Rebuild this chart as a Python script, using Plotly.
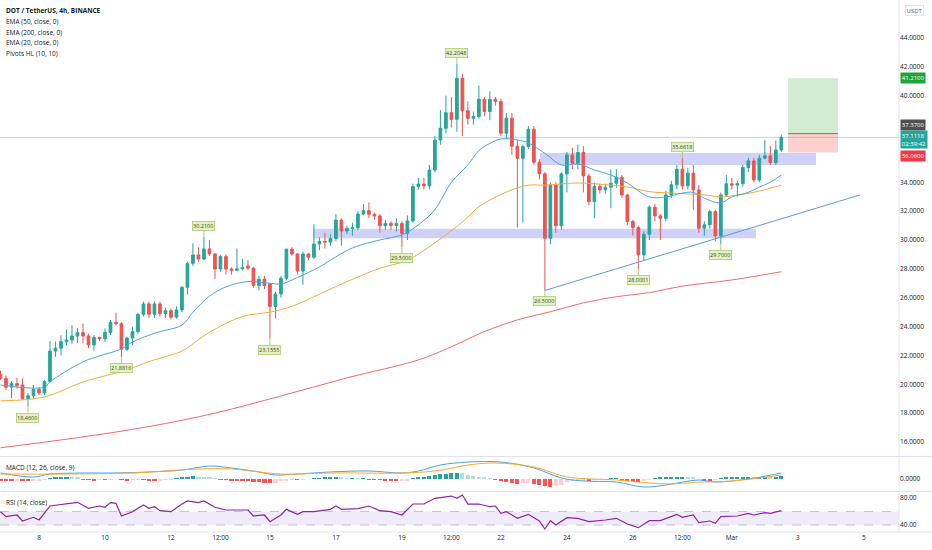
import plotly.graph_objects as go
from plotly.subplots import make_subplots

# ---------------- data ----------------
opens = [20.70, 20.40, 19.80, 20.05, 19.95, 19.00, 19.20, 19.65, 19.40, 20.20,
         22.30, 22.50, 22.96, 23.07, 23.35, 23.58, 23.35, 22.73, 23.25, 23.15,
         23.60, 24.30, 24.20, 22.43, 23.20, 23.65, 24.85, 25.57, 24.85, 25.57,
         24.90, 25.10, 24.65, 25.15, 26.72, 28.38, 28.96, 28.68, 29.38, 29.03,
         27.99, 28.85, 27.99, 27.90, 28.00, 28.20, 28.05, 26.84, 27.28, 26.95,
         25.40, 26.26, 27.35, 29.36, 29.03, 27.85, 29.03, 28.80, 29.72, 29.90,
         29.85, 30.10, 31.38, 30.62, 30.80, 30.85, 31.80, 32.03, 31.78, 31.66,
         30.99, 31.15, 31.00, 31.15, 30.46, 31.32, 33.70, 33.88, 33.75, 34.85,
         36.93, 37.74, 38.82, 38.36, 41.20, 38.96, 38.43, 38.55, 39.75, 38.90,
         39.75, 39.60, 37.40, 38.44, 36.50, 35.66, 36.47, 37.67, 35.39, 34.58,
         30.12, 33.82, 30.98, 34.58, 35.90, 35.32, 36.06, 34.44, 32.66, 33.70,
         33.47, 33.66, 33.93, 34.35, 33.12, 31.28, 30.86, 28.97, 30.40, 32.27,
         31.67, 31.50, 33.12, 33.82, 34.90, 33.75, 34.63, 33.47, 30.81, 31.05,
         31.97, 30.28, 33.12, 33.89, 33.80, 33.90, 35.02, 35.48, 34.16, 35.67,
         35.83, 35.37, 36.24]
highs = [20.95, 20.60, 20.20, 20.45, 20.40, 19.40, 19.95, 19.80, 20.30, 23.00,
         22.96, 23.40, 23.80, 24.10, 23.90, 24.20, 23.50, 23.40, 23.30, 23.88,
         24.46, 24.97, 24.30, 23.30, 24.00, 24.92, 25.73, 25.73, 25.73, 25.73,
         25.30, 25.25, 25.40, 26.80, 28.50, 29.77, 29.50, 30.21, 30.00, 29.10,
         29.00, 29.00, 28.10, 29.40, 28.70, 28.60, 28.10, 27.50, 27.50, 27.00,
         26.40, 27.50, 29.40, 29.50, 29.10, 29.20, 29.10, 31.10, 30.20, 30.50,
         30.40, 31.80, 31.50, 31.00, 31.20, 32.00, 32.49, 32.60, 31.90, 31.80,
         31.40, 31.30, 31.50, 31.30, 31.70, 33.90, 34.30, 34.30, 35.20, 37.20,
         39.00, 40.00, 39.90, 42.2048, 41.50, 39.60, 38.90, 40.70, 39.90, 40.30,
         39.90, 39.80, 38.80, 38.80, 36.90, 36.60, 37.90, 37.90, 35.60, 34.70,
         34.00, 34.00, 34.70, 36.10, 36.40, 36.60, 36.50, 34.60, 34.00, 33.90,
         33.90, 34.90, 34.90, 34.50, 33.20, 31.40, 31.00, 30.60, 32.40, 32.50,
         31.80, 33.40, 34.10, 35.20, 35.6618, 35.00, 35.20, 33.80, 31.30, 32.10,
         32.10, 33.30, 34.50, 34.30, 34.10, 35.20, 35.70, 35.70, 35.90, 36.94,
         36.50, 36.90, 37.30]
lows = [20.30, 19.60, 19.05, 19.70, 18.90, 18.46, 19.05, 19.25, 19.25, 20.10,
        21.90, 22.00, 22.70, 22.80, 22.85, 22.85, 22.50, 22.33, 23.00, 22.95,
        23.40, 24.10, 21.8816, 22.30, 22.70, 23.50, 24.70, 24.60, 24.60, 24.70,
        24.60, 24.50, 24.55, 25.00, 26.20, 28.20, 28.50, 28.60, 28.90, 27.30,
        27.80, 27.60, 27.60, 27.85, 27.90, 27.90, 26.70, 26.50, 26.60, 23.1555,
        24.57, 26.00, 27.20, 28.90, 27.60, 26.90, 28.60, 28.70, 29.30, 29.40,
        29.60, 29.90, 29.60, 30.40, 30.30, 30.70, 31.70, 31.50, 31.40, 30.50,
        30.70, 30.70, 30.60, 29.50, 30.00, 31.20, 33.50, 33.50, 33.50, 34.70,
        36.60, 37.40, 37.80, 37.50, 37.20, 38.00, 38.00, 38.40, 38.60, 38.30,
        39.30, 37.20, 37.00, 35.90, 30.86, 31.20, 36.30, 35.20, 34.20, 26.50,
        29.70, 30.50, 30.70, 33.30, 34.90, 34.90, 33.30, 32.40, 31.50, 33.20,
        33.20, 32.20, 33.60, 32.90, 31.00, 30.30, 28.0001, 28.60, 30.00, 31.30,
        30.00, 31.30, 32.90, 33.50, 33.50, 33.50, 32.10, 30.50, 30.30, 30.80,
        29.90, 29.70, 33.00, 33.50, 33.00, 33.70, 34.70, 34.00, 34.00, 35.60,
        35.20, 35.20, 36.10]
closes = [20.40, 19.80, 20.05, 19.90, 19.00, 19.20, 19.65, 19.40, 20.20, 22.30,
          22.50, 22.96, 23.07, 23.35, 23.58, 23.35, 22.73, 23.25, 23.15, 23.60,
          24.30, 24.20, 22.43, 23.20, 23.65, 24.85, 25.57, 24.85, 25.57, 24.90,
          25.10, 24.65, 25.15, 26.72, 28.38, 28.96, 28.68, 29.38, 29.03, 27.99,
          28.85, 27.99, 27.90, 28.00, 28.10, 28.05, 26.84, 27.28, 26.84, 25.40,
          26.26, 27.35, 29.36, 29.03, 27.85, 29.03, 28.80, 29.72, 29.90, 29.85,
          30.10, 31.38, 30.62, 30.80, 30.85, 31.80, 32.03, 31.78, 31.66, 30.99,
          31.15, 31.00, 31.15, 30.46, 31.32, 33.70, 33.88, 33.75, 34.85, 36.93,
          37.74, 38.82, 38.36, 41.20, 38.96, 38.43, 38.55, 39.75, 38.90, 39.75,
          39.60, 37.40, 38.44, 36.50, 35.66, 36.47, 37.67, 35.39, 34.58, 30.12,
          33.82, 30.98, 34.58, 35.90, 35.32, 36.06, 34.44, 32.66, 33.70, 33.47,
          33.66, 33.93, 34.35, 33.12, 31.28, 30.86, 28.97, 30.40, 32.27, 31.67,
          31.50, 33.12, 33.82, 34.90, 33.75, 34.63, 33.47, 30.81, 31.05, 31.97,
          30.28, 33.12, 33.89, 33.80, 33.90, 35.02, 35.48, 34.16, 35.67, 35.83,
          35.37, 36.24, 37.11]
bar_idx = list(range(len(closes)))

# EMA lines read at sample bars
ema20_x = [0, 8, 9, 15, 18, 22, 24, 27, 29, 33, 35, 38, 41, 45, 49, 51, 54, 58, 60,
           64, 69, 73, 76, 79, 82, 85, 87, 89, 91, 94, 96, 99, 102, 105, 108, 111,
           114, 116, 118, 121, 124, 126, 128, 131, 133, 136, 138, 140, 142]
ema20_y = [19.95, 19.80, 20.17, 21.55, 21.96, 22.45, 22.93, 23.40, 23.65, 24.10,
           25.00, 26.10, 26.75, 27.12, 27.00, 26.95, 27.40, 28.13, 28.60,
           29.45, 30.00, 30.35, 31.05, 32.10, 34.00, 35.20, 36.20, 36.70, 37.00,
           36.93, 36.72, 36.00, 35.20, 35.27, 34.85, 34.50, 33.95, 33.40, 32.98,
           32.98, 33.25, 33.30, 32.90, 32.57, 32.98, 33.30, 33.67, 34.00, 34.50]
ema50_x = [0, 8, 15, 23, 27, 31, 33, 38, 44, 49, 53, 57, 63, 69, 74, 79, 84, 87,
           89, 93, 96, 99, 105, 111, 114, 118, 122, 128, 131, 134, 137, 142]
ema50_y = [18.85, 19.12, 20.16, 21.00, 21.57, 22.03, 22.30, 23.60, 24.70, 25.00,
           25.40, 26.07, 27.11, 28.04, 28.60, 29.80, 31.25, 32.30, 32.77, 33.47,
           33.80, 33.80, 33.95, 33.80, 33.67, 33.35, 33.25, 33.12, 32.98, 33.12,
           33.30, 33.80]
ema200_x = [0, 14, 27, 39, 51, 63, 76, 82, 88, 94, 100, 106, 112, 118, 124, 133, 142]
ema200_y = [15.60, 16.30, 17.07, 18.00, 19.19, 20.44, 21.69, 22.60, 23.65, 24.46,
            25.03, 25.64, 26.07, 26.35, 26.80, 27.23, 27.80]

# MACD pane
macd_x = [0, 6, 9, 15, 21, 27, 33, 38, 42, 47, 50, 54, 60, 67, 73, 76, 80, 85, 91,
          97, 102, 106, 112, 117, 121, 127, 130, 136, 142]
macd_y = [0.75, 0.25, 0.62, 0.75, 0.75, 0.88, 1.12, 1.62, 1.38, 0.88, 0.50, 0.62,
          0.88, 1.00, 0.75, 1.00, 1.75, 2.12, 2.12, 1.38, 0.12, -0.25, -0.38, -1.00,
          -0.75, -0.12, -0.38, 0.00, 0.75]
signal_x = [0, 12, 24, 36, 42, 51, 60, 73, 79, 85, 90, 97, 103, 112, 121, 127, 133, 142]
signal_y = [0.62, 0.62, 0.75, 1.25, 1.25, 0.62, 0.75, 0.75, 1.00, 1.75, 2.00, 1.50,
            0.25, -0.12, -0.62, -0.38, -0.25, 0.50]
hist = [-0.20, -0.25, -0.25, -0.20, -0.30, -0.30, -0.25, -0.20,
        -0.10, 0.10, 0.20, 0.30, 0.30, 0.25, 0.15,
        -0.05, -0.10, -0.15, -0.10, -0.10, -0.05, 0.00, -0.10, -0.15, -0.10, -0.05,
        -0.10, -0.15, -0.20, -0.15, -0.10, -0.05, 0.05,
        0.20, 0.30, 0.35, 0.30, 0.25, 0.20,
        0.10, -0.05, -0.10, -0.15, -0.15, -0.20, -0.25,
        -0.35, -0.40, -0.45, -0.50, -0.45,
        -0.30, -0.20, -0.10,
        -0.10, -0.05, 0.00, 0.05,
        0.10, 0.15, 0.20, 0.20, 0.15, 0.10, 0.10, 0.05, 0.05,
        -0.05, -0.10, -0.10,
        -0.20, -0.25, -0.25, -0.20, -0.15,
        0.05, 0.20, 0.30, 0.40, 0.50, 0.60, 0.65, 0.70, 0.75, 0.70,
        0.50, 0.40, 0.25, 0.15,
        0.05, -0.10,
        -0.30, -0.35, -0.50, -0.60, -0.55, -0.45, -0.60, -0.70, -0.90, -1.00, -0.85, -0.75,
        -0.40, -0.30, -0.20, -0.15,
        -0.25,
        -0.10, -0.05, 0.00, 0.05, 0.05,
        -0.15, -0.25, -0.30, -0.35, -0.30,
        -0.10, 0.05, 0.15,
        0.20, 0.30, 0.30, 0.30, 0.25, 0.15, 0.00,
        -0.15, -0.20, -0.10,
        0.05, 0.15, 0.20, 0.25, 0.25, 0.30, 0.25, 0.30, 0.30, 0.25, 0.30, 0.35]

# RSI pane
rsi_x = [0, 1, 3, 4, 6, 7, 9, 12, 14, 16, 18, 19, 20, 21, 22, 24, 26, 27, 28, 29,
         31, 33, 34, 36, 37, 39, 41, 45, 46, 48, 49, 51, 52, 54, 55, 57, 60, 61,
         62, 65, 67, 69, 71, 73, 75, 77, 79, 82, 83, 84, 85, 87, 89, 90, 91, 92,
         94, 96, 98, 99, 100, 101, 103, 105, 107, 110, 112, 114, 116, 118, 120,
         123, 124, 126, 127, 129, 130, 131, 134, 136, 137, 139, 140, 142]
rsi_y = [59.7, 52.3, 54.8, 45.9, 51.4, 47.4, 68.1, 71.1, 73.6, 64.7, 68.1, 66.2,
         73.1, 72.1, 53.3, 59.7, 69.6, 64.7, 67.1, 61.2, 59.7, 71.1, 75.6, 73.1,
         75.6, 66.2, 62.2, 62.2, 53.3, 54.8, 44.9, 54.8, 63.2, 55.8, 59.7, 59.7,
         63.2, 68.1, 63.2, 64.2, 68.1, 61.2, 59.7, 54.8, 71.1, 71.1, 79.5, 82.9,
         79.5, 84.4, 71.0, 71.1, 67.1, 68.1, 57.3, 59.7, 49.9, 55.8, 45.9, 34.1,
         46.4, 40.0, 50.9, 49.9, 44.9, 47.4, 49.9, 41.5, 36.0, 46.4, 46.4, 55.8,
         51.4, 54.8, 43.4, 45.9, 42.5, 52.3, 53.3, 57.3, 54.8, 58.2, 57.3, 61.2]
rsi_band = [40, 60]

# Pivots HL labels (bar index, kind)
pivot_bars = [83, 37, 124, 5, 22, 49, 73, 99, 116, 131]
pivot_kind = ['H', 'H', 'H', 'L', 'L', 'L', 'L', 'L', 'L', 'L']

# Drawings
zone_x0 = [56.8, 98.1]
zone_x1 = [137.4, 148.3]
zone_lo = [30.12, 35.20]
zone_hi = [30.78, 36.03]
trend_x = [99, 156.3]
trend_y = [26.50, 33.12]
pos_x = [143.2, 152.3]
pos_entry, pos_target, pos_stop = 37.37, 41.21, 36.06
last_price = 37.1118
countdown = "02:39:42"

# 38 and 36 are hidden behind the price tags in the reference
price_ticks = [16, 18, 20, 22, 24, 26, 28, 30, 32, 34, 40, 42, 44]
time_tick_bars = [7, 19, 31, 40, 49, 61, 73, 82, 91, 103, 115, 124, 133, 145, 157]
time_tick_text = ["8", "10", "12", "12:00", "15", "17", "19", "12:00", "22", "24",
                  "26", "12:00", "Mar", "3", "5"]

# ---------------- styling ----------------
UP, DN = "#26a69a", "#ef5350"
FONT = "Open Sans"
TXT = "#131722"
SEP = "#e0e3eb"
XR = [-0.09, 163.4]

fig = make_subplots(rows=3, cols=1, shared_xaxes=True, vertical_spacing=0)

fig.add_trace(go.Candlestick(
    x=bar_idx, open=opens, high=highs, low=lows, close=closes,
    increasing=dict(line=dict(color=UP, width=1), fillcolor=UP),
    decreasing=dict(line=dict(color=DN, width=1), fillcolor=DN),
    whiskerwidth=0, hoverinfo="skip"), row=1, col=1)

fig.add_trace(go.Scatter(x=ema200_x, y=ema200_y, mode="lines", line_shape="spline",
                         line=dict(color="#f06b6b", width=1)), row=1, col=1)
fig.add_trace(go.Scatter(x=ema50_x, y=ema50_y, mode="lines", line_shape="spline",
                         line=dict(color="#f7a93b", width=1)), row=1, col=1)
fig.add_trace(go.Scatter(x=ema20_x, y=ema20_y, mode="lines", line_shape="spline",
                         line=dict(color="#4aa3ea", width=1)), row=1, col=1)
fig.add_trace(go.Scatter(x=trend_x, y=trend_y, mode="lines",
                         line=dict(color="#5b9bd5", width=1)), row=1, col=1)

# MACD histogram colours
hcol = []
for k, v in enumerate(hist):
    prev = hist[k - 1] if k > 0 else 0
    if v >= 0:
        hcol.append(UP if v >= prev else "#b2dfdb")
    else:
        hcol.append("#ff5252" if v <= prev else "#ffcdd2")
fig.add_trace(go.Bar(x=bar_idx, y=hist, marker=dict(color=hcol, line=dict(width=0)),
                     width=0.75), row=2, col=1)
fig.add_trace(go.Scatter(x=macd_x, y=macd_y, mode="lines", line_shape="spline",
                         line=dict(color="#42a5f5", width=1)), row=2, col=1)
fig.add_trace(go.Scatter(x=signal_x, y=signal_y, mode="lines", line_shape="spline",
                         line=dict(color="#ffa726", width=1)), row=2, col=1)

fig.add_trace(go.Scatter(x=rsi_x, y=rsi_y, mode="lines",
                         line=dict(color="#8e24aa", width=1.2)), row=3, col=1)

shapes = []
# demand / supply zones
for a, b, lo, hi in zip(zone_x0, zone_x1, zone_lo, zone_hi):
    shapes.append(dict(type="rect", xref="x", yref="y", x0=a, x1=b, y0=lo, y1=hi,
                       fillcolor="rgba(120,123,238,0.35)", line=dict(width=0), layer="below"))
# long position tool
shapes.append(dict(type="rect", xref="x", yref="y", x0=pos_x[0], x1=pos_x[1],
                   y0=pos_entry, y1=pos_target, fillcolor="rgba(76,175,80,0.25)",
                   line=dict(width=0), layer="below"))
shapes.append(dict(type="rect", xref="x", yref="y", x0=pos_x[0], x1=pos_x[1],
                   y0=pos_stop, y1=pos_entry, fillcolor="rgba(244,67,54,0.25)",
                   line=dict(width=0), layer="below"))
shapes.append(dict(type="line", xref="x", yref="y", x0=pos_x[0], x1=pos_x[1],
                   y0=pos_entry, y1=pos_entry, line=dict(color="#9a6a6a", width=1)))
# last price line
shapes.append(dict(type="line", xref="paper", yref="y", x0=0, x1=1, y0=last_price,
                   y1=last_price, line=dict(color="rgba(38,166,154,0.35)", width=1),
                   layer="below"))
# RSI band
shapes.append(dict(type="rect", xref="paper", yref="y3", x0=0, x1=1, y0=rsi_band[0],
                   y1=rsi_band[1], fillcolor="rgba(126,87,194,0.12)", line=dict(width=0),
                   layer="below"))
for lv in rsi_band:
    shapes.append(dict(type="line", xref="paper", yref="y3", x0=0, x1=1, y0=lv, y1=lv,
                       line=dict(color="#b8b8c8", width=0.8, dash="dash"), layer="below"))
# pane separators
for yp in [0.14192, 0.07613, 0.0]:
    shapes.append(dict(type="line", xref="paper", yref="paper", x0=0, x1=1.04,
                       y0=yp, y1=yp, line=dict(color=SEP, width=1)))
shapes.append(dict(type="line", xref="paper", yref="paper", x0=1, x1=1, y0=0, y1=1,
                   line=dict(color=SEP, width=1)))

ann = []
legend_lines = [("<b>DOT / TetherUS, 4h, BINANCE</b>", 10), ("EMA (50, close, 0)", 21),
                ("EMA (200, close, 0)", 32), ("EMA (20, close, 0)", 42),
                ("Pivots HL (10, 10)", 53)]
for t, py in legend_lines:
    ann.append(dict(text=t, xref="paper", yref="paper", x=4 / 899, y=1 - py / 532,
                    xanchor="left", yanchor="middle", showarrow=False,
                    font=dict(size=6.5, color=TXT, family=FONT)))
ann.append(dict(text="MACD (12, 26, close, 9)", xref="paper", yref="paper", x=4 / 899,
                y=1 - 467 / 532, xanchor="left", yanchor="middle", showarrow=False,
                font=dict(size=6.5, color=TXT, family=FONT)))
ann.append(dict(text="RSI (14, close)", xref="paper", yref="paper", x=4 / 899,
                y=1 - 502 / 532, xanchor="left", yanchor="middle", showarrow=False,
                font=dict(size=6.5, color=TXT, family=FONT)))
ann.append(dict(text="USDT", xref="paper", yref="paper", x=1 + 15 / 899, y=1 - 10 / 532,
                xanchor="center", yanchor="middle", showarrow=False,
                bordercolor="#d1d4dc", borderwidth=0.6, borderpad=1,
                font=dict(size=6, color="#50535e", family=FONT)))

# pivot labels
for b, k in zip(pivot_bars, pivot_kind):
    val = highs[b] if k == "H" else lows[b]
    ann.append(dict(text=f"{val:.4f}", x=b, y=val, xref="x", yref="y", showarrow=True,
                    arrowhead=0, arrowwidth=0.8, arrowcolor="#9bbf5a", ax=0,
                    ay=-11 if k == "H" else 11, standoff=0,
                    bgcolor="#e3f1c4", bordercolor="#9bbf5a", borderwidth=0.6, borderpad=0.5,
                    font=dict(size=5.5, color="#3d4a1a", family=FONT)))

# price-axis tags
def tag(text, yv, bg, shift=0, size=6):
    return dict(text=text, xref="paper", yref="y", x=1 + 1 / 899, y=yv, yshift=shift,
                xanchor="left", yanchor="middle", showarrow=False, bgcolor=bg,
                borderpad=0.8, align="left", font=dict(size=size, color="white", family=FONT))
ann.append(tag(f"{pos_target:.4f}", pos_target, "#1fa33a"))
ann.append(tag(f"{pos_entry:.4f}", pos_entry, "#4f4f4f", 9))
ann.append(tag(f"{last_price:.4f}<br>{countdown}", last_price, "#26a69a", -2.5))
ann.append(tag(f"{pos_stop:.4f}", pos_stop, "#f23645", -3))

axis_common = dict(showgrid=False, zeroline=False, showline=False, ticks="",
                   tickfont=dict(size=6.5, color=TXT, family=FONT))
fig.update_layout(
    width=932, height=550, margin=dict(l=0, r=33, t=0, b=18),
    paper_bgcolor="white", plot_bgcolor="white", showlegend=False,
    font=dict(family=FONT, size=6.5, color=TXT),
    shapes=shapes, annotations=ann, bargap=0,
    xaxis=dict(range=XR, showticklabels=False, rangeslider=dict(visible=False), **axis_common),
    xaxis2=dict(range=XR, showticklabels=False, **axis_common),
    xaxis3=dict(range=XR, tickvals=time_tick_bars, ticktext=time_tick_text, **axis_common),
    yaxis=dict(domain=[0.14286, 1.0], range=[15.03, 46.63], side="right",
               tickvals=price_ticks, ticktext=[f"{v:.4f}" for v in price_ticks], **axis_common),
    yaxis2=dict(domain=[0.07707, 0.14098], range=[-1.5, 2.75], side="right",
                tickvals=[0], ticktext=["0.0000"], **axis_common),
    yaxis3=dict(domain=[0.0, 0.07519], range=[29.6, 88.9], side="right",
                tickvals=[40, 80], ticktext=["40.00", "80.00"], **axis_common),
)

fig.write_html("out.html", config={"displayModeBar": False},
               post_script="document.body.style.margin='0';document.body.style.overflow='hidden';")
